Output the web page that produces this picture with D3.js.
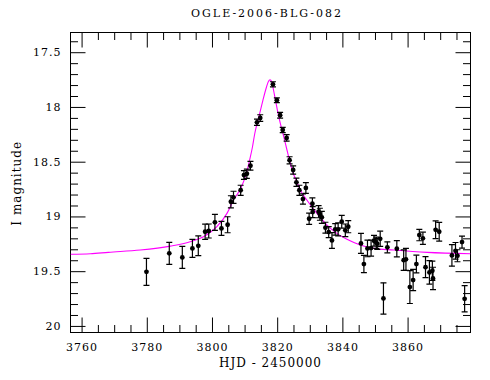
<!DOCTYPE html>
<html>
<head>
<meta charset="utf-8">
<script src="https://cdn.jsdelivr.net/npm/d3@7"></script>
<style>
  html, body { margin: 0; padding: 0; background: #fff; }
  svg { display: block; }
  text { font-family: "DejaVu Serif", serif; fill: #000; }
</style>
</head>
<body>
<svg id="chart" width="490" height="380"></svg>
<script>
// ---- data ----
const obsTime = [3779.9,3786.9,3790.9,3794.0,3795.8,3797.9,3799.0,3800.9,3802.9,3804.8,
  3805.8,3806.6,3808.8,3809.8,3810.7,3811.8,3813.8,3814.8,3818.7,3819.9,
  3820.9,3821.7,3822.9,3823.8,3824.9,3825.9,3826.8,3827.9,3828.8,3829.8,
  3830.8,3830.9,3832.7,3833.1,3833.7,3834.8,3835.8,3836.8,3837.8,3838.7,
  3839.8,3840.9,3841.8,3845.7,3846.6,3847.7,3848.8,3849.7,3850.4,3850.7,
  3851.6,3852.6,3853.8,3856.7,3858.8,3859.5,3860.7,3861.7,3862.7,3863.6,
  3864.7,3865.5,3866.7,3867.6,3867.8,3868.6,3869.7,3873.6,3874.7,3875.3,
  3876.7,3877.5];
const obsMag = [19.506,19.337,19.374,19.292,19.268,19.140,19.133,19.054,19.109,19.076,
  18.866,18.825,18.761,18.622,18.610,18.537,18.140,18.101,17.793,17.939,
  18.076,18.210,18.283,18.487,18.576,18.688,18.761,18.841,18.740,19.021,
  18.884,18.960,18.957,18.980,19.008,19.103,19.143,19.219,19.118,19.118,
  19.048,19.127,19.094,19.246,19.435,19.292,19.289,19.222,19.240,19.250,
  19.204,19.749,19.282,19.295,19.399,19.392,19.645,19.581,19.435,19.170,
  19.200,19.463,19.511,19.496,19.566,19.122,19.140,19.356,19.314,19.359,
  19.234,19.752];
const obsErr = [0.123,0.100,0.100,0.082,0.090,0.069,0.064,0.073,0.064,0.073,
  0.055,0.055,0.046,0.040,0.043,0.040,0.029,0.030,0.023,0.021,
  0.026,0.024,0.030,0.032,0.038,0.038,0.046,0.047,0.049,0.052,
  0.053,0.050,0.055,0.055,0.055,0.050,0.050,0.072,0.052,0.060,
  0.058,0.058,0.055,0.091,0.079,0.076,0.073,0.049,0.052,0.050,
  0.069,0.143,0.050,0.075,0.094,0.100,0.150,0.097,0.081,0.052,
  0.056,0.096,0.107,0.088,0.102,0.081,0.085,0.098,0.076,0.055,
  0.055,0.120];

const modelTime = [3756.6,3762.7,3768.2,3778.0,3787.2,3793.3,3797.4,3801.5,3804.6,3806.6,
  3808.8,3810.5,3811.5,3812.4,3813.1,3813.8,3814.6,3815.6,3816.7,3817.3,
  3817.8,3818.3,3818.7,3819.5,3820.3,3821.0,3821.8,3822.8,3823.8,3825.0,
  3825.9,3827.1,3829.1,3832.2,3835.3,3838.3,3841.4,3845.5,3849.6,3855.7,
  3866.0,3879.3];
const modelMag = [19.346,19.341,19.328,19.307,19.271,19.231,19.186,19.094,18.972,18.850,
  18.745,18.612,18.491,18.368,18.247,18.155,18.064,17.942,17.820,17.768,
  17.753,17.768,17.820,17.942,18.064,18.155,18.247,18.368,18.491,18.612,
  18.674,18.759,18.850,18.972,19.079,19.155,19.209,19.261,19.292,19.307,
  19.328,19.341];

const xMajorTicks = [3760,3780,3800,3820,3840,3860];
const xTickLabels = ["3760","3780","3800","3820","3840","3860"];
const yMajorTicks = [17.5,18,18.5,19,19.5,20];
const yTickLabels = ["17.5","18","18.5","19","19.5","20"];

const titleText = "OGLE-2006-BLG-082";
const xTitle = "HJD - 2450000";
const yTitle = "I magnitude";

// ---- layout ----
const L = 70.5, R = 470.5, T = 32.5, B = 332.5;
const svg = d3.select("#chart");
svg.append("rect").attr("width",490).attr("height",380).attr("fill","#fff");

const x = d3.scaleLinear().domain([3756.6, 3879.3]).range([L, R]);
const y = d3.scaleLinear().domain([17.32, 20.06]).range([T, B]);

const xMinor = d3.range(3760, 3880, 5).filter(v => xMajorTicks.indexOf(v) < 0);
const yMinor = d3.range(174, 201, 1).map(v => v / 10).filter(v => yMajorTicks.indexOf(v) < 0 && v > 17.32 && v < 20.06);

const MAJ = 15, MIN = 7.5;

function styleAxis(g) {
  g.select(".domain").remove();
  g.selectAll(".tick line").attr("stroke", "#000").attr("stroke-width", 1);
  g.selectAll("text").style("font-family", '"DejaVu Serif", serif');
}

// bottom
svg.append("g").attr("transform", `translate(0,${B})`)
  .call(d3.axisBottom(x).tickValues(xMajorTicks).tickFormat((d,i) => xTickLabels[i]).tickSize(-MAJ).tickPadding(11))
  .call(styleAxis)
  .call(g => g.selectAll("text").attr("font-size", 11).style("font-size","11px").style("letter-spacing","1px").attr("fill","#000"));
svg.append("g").attr("transform", `translate(0,${B})`)
  .call(d3.axisBottom(x).tickValues(xMinor).tickFormat("").tickSize(-MIN))
  .call(styleAxis);
// top
svg.append("g").attr("transform", `translate(0,${T})`)
  .call(d3.axisTop(x).tickValues(xMajorTicks).tickFormat("").tickSize(-MAJ))
  .call(styleAxis);
svg.append("g").attr("transform", `translate(0,${T})`)
  .call(d3.axisTop(x).tickValues(xMinor).tickFormat("").tickSize(-MIN))
  .call(styleAxis);
// left
svg.append("g").attr("transform", `translate(${L},0)`)
  .call(d3.axisLeft(y).tickValues(yMajorTicks).tickFormat((d,i) => yTickLabels[i]).tickSize(-MAJ).tickPadding(9))
  .call(styleAxis)
  .call(g => g.selectAll("text").style("font-size","11px").style("letter-spacing","1px").attr("fill","#000"));
svg.append("g").attr("transform", `translate(${L},0)`)
  .call(d3.axisLeft(y).tickValues(yMinor).tickFormat("").tickSize(-MIN))
  .call(styleAxis);
// right
svg.append("g").attr("transform", `translate(${R},0)`)
  .call(d3.axisRight(y).tickValues(yMajorTicks).tickFormat("").tickSize(-MAJ))
  .call(styleAxis);
svg.append("g").attr("transform", `translate(${R},0)`)
  .call(d3.axisRight(y).tickValues(yMinor).tickFormat("").tickSize(-MIN))
  .call(styleAxis);

// frame
svg.append("rect").attr("x", L).attr("y", T).attr("width", R - L).attr("height", B - T)
  .attr("fill", "none").attr("stroke", "#000").attr("stroke-width", 1);

// clip
svg.append("clipPath").attr("id","plotclip").append("rect")
  .attr("x", L).attr("y", T).attr("width", R - L).attr("height", B - T);
const plot = svg.append("g").attr("clip-path","url(#plotclip)");

// model curve
const model = modelTime.map((t,i) => ({t, m: modelMag[i]}));
plot.append("path").datum(model)
  .attr("fill","none").attr("stroke","#ff00ff").attr("stroke-width",1.1)
  .attr("d", d3.line().x(d => x(d.t)).y(d => y(d.m)).curve(d3.curveMonotoneX));

// observations
const obs = obsTime.map((t,i) => ({t, m: obsMag[i], e: obsErr[i]}));
const pts = plot.append("g").selectAll("g").data(obs).join("g");
pts.append("line")
  .attr("x1", d => x(d.t)).attr("x2", d => x(d.t))
  .attr("y1", d => y(d.m - d.e)).attr("y2", d => y(d.m + d.e))
  .attr("stroke","#000").attr("stroke-width",1.2);
pts.append("line")
  .attr("x1", d => x(d.t) - 3).attr("x2", d => x(d.t) + 3)
  .attr("y1", d => y(d.m - d.e)).attr("y2", d => y(d.m - d.e))
  .attr("stroke","#000").attr("stroke-width",1.2);
pts.append("line")
  .attr("x1", d => x(d.t) - 3).attr("x2", d => x(d.t) + 3)
  .attr("y1", d => y(d.m + d.e)).attr("y2", d => y(d.m + d.e))
  .attr("stroke","#000").attr("stroke-width",1.2);
pts.append("circle")
  .attr("cx", d => x(d.t)).attr("cy", d => y(d.m)).attr("r", 2.4)
  .attr("fill","#000");

// titles
svg.append("text").attr("x", 267).attr("y", 16.7).attr("text-anchor","middle")
  .style("font-size","11px").style("letter-spacing","2px").text(titleText);
svg.append("text").attr("x", 270.5).attr("y", 366.7).attr("text-anchor","middle")
  .style("font-size","12px").style("letter-spacing","1px").text(xTitle);
svg.append("text").attr("transform","translate(20.5,183.3) rotate(-90)").attr("text-anchor","middle")
  .style("font-size","12px").style("letter-spacing","1px").text(yTitle);
</script>
</body>
</html>
